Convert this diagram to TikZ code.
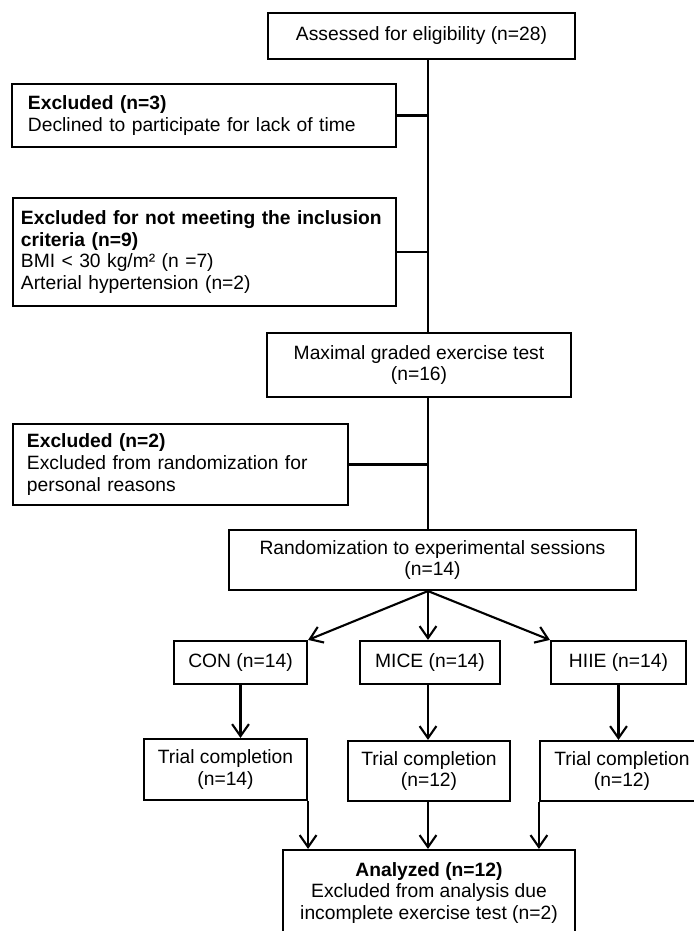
\documentclass[tikz,border=0pt]{standalone}
\usepackage{fontspec}
\setmainfont{Liberation Sans}
\usetikzlibrary{arrows.meta}

\begin{document}
\begin{tikzpicture}[x=0.025cm,y=-0.025cm,line width=1.5pt,
	font=\fontsize{13.7}{15.6}\selectfont,
	box/.style={draw,align=center,inner sep=0pt},
	exclbox/.style={draw,align=left,inner xsep=0.35cm,inner ysep=0pt},
	arr/.style={-{Straight Barb[length=0.3cm,width=0.42cm]}}]
	\useasboundingbox (0,0) rectangle (694,931);
	\coordinate (spine) at (428,0); %main line
	\node[box,minimum width=7.675cm,minimum height=1.15cm] (assess) at (421.5,36) {Assessed for eligibility (n=28)};
	\node[exclbox,inner xsep=0.4cm,text width=8.8cm,minimum height=1.575cm] (excl1) at (204,115.5) {\textbf{Excluded (n=3)}\\Declined to participate for lack of time};
	\node[exclbox,inner xsep=0.2cm,text width=9.175cm,minimum height=2.7cm] (excl2) at (204.5,252) {\textbf{Excluded for not meeting the inclusion}\\\textbf{criteria (n=9)}\\BMI < 30 kg/m² (n =7)\\Arterial hypertension (n=2)};
	\node[box,minimum width=7.6cm,minimum height=1.6cm] (maxtest) at (419,365) {Maximal graded exercise test\\(n=16)};
	\node[exclbox,text width=7.675cm,minimum height=2.025cm] (excl3) at (180.5,464.5) {\textbf{Excluded (n=2)}\\Excluded from randomization for\\personal reasons};
	\node[box,minimum width=10.175cm,minimum height=1.5cm] (rand) at (432.5,560) {Randomization to experimental sessions\\(n=14)};
	% groups
	\node[box,minimum width=3.325cm,minimum height=1.075cm] (con) at (240.5,662.5) {CON (n=14)};
	\node[box,minimum width=3.5cm,minimum height=1.075cm] (mice) at (430,662.5) {MICE (n=14)};
	\node[box,minimum width=3.375cm,minimum height=1.075cm] (hiie) at (618.5,662.5) {HIIE (n=14)};
	\node[box,minimum width=4.075cm,minimum height=1.525cm] (trialcon) at (225.5,769.5) {Trial completion\\(n=14)};
	\node[box,minimum width=4.05cm,minimum height=1.5cm] (trialmice) at (429,771) {Trial completion\\(n=12)};
	\node[box,minimum width=4.1cm,minimum height=1.5cm] (trialhiie) at (622,771) {Trial completion\\(n=12)};
	\node[box,minimum width=7.3cm,minimum height=2.15cm] (analyzed) at (429,893) {\textbf{Analyzed (n=12)}\\Excluded from analysis due\\incomplete exercise test (n=2)};
	% connectors
	\draw (assess.south -| spine) -- (maxtest.north -| spine);
	\draw (excl1.east) -- (excl1.east -| spine);
	\draw (excl2.east) -- (excl2.east -| spine);
	\draw (maxtest.south -| spine) -- (rand.north -| spine);
	\draw (excl3.east) -- (excl3.east -| spine);
	\draw[arr] (rand.south -| spine) -- (con.north east);
	\draw[arr] (rand.south -| spine) -- (mice.north -| spine);
	\draw[arr] (rand.south -| spine) -- (hiie.north west);
	\draw[arr] (con.south) -- (con.south |- trialcon.north);
	\draw[arr] (mice.south -| spine) -- (trialmice.north -| spine);
	\draw[arr] (hiie.south) -- (hiie.south |- trialhiie.north);
	\draw[arr] (trialcon.south east) -- (trialcon.south east |- analyzed.north);
	\draw[arr] (trialmice.south -| spine) -- (analyzed.north -| spine);
	\draw[arr] (trialhiie.south west) -- (trialhiie.south west |- analyzed.north);
\end{tikzpicture}
\end{document}
